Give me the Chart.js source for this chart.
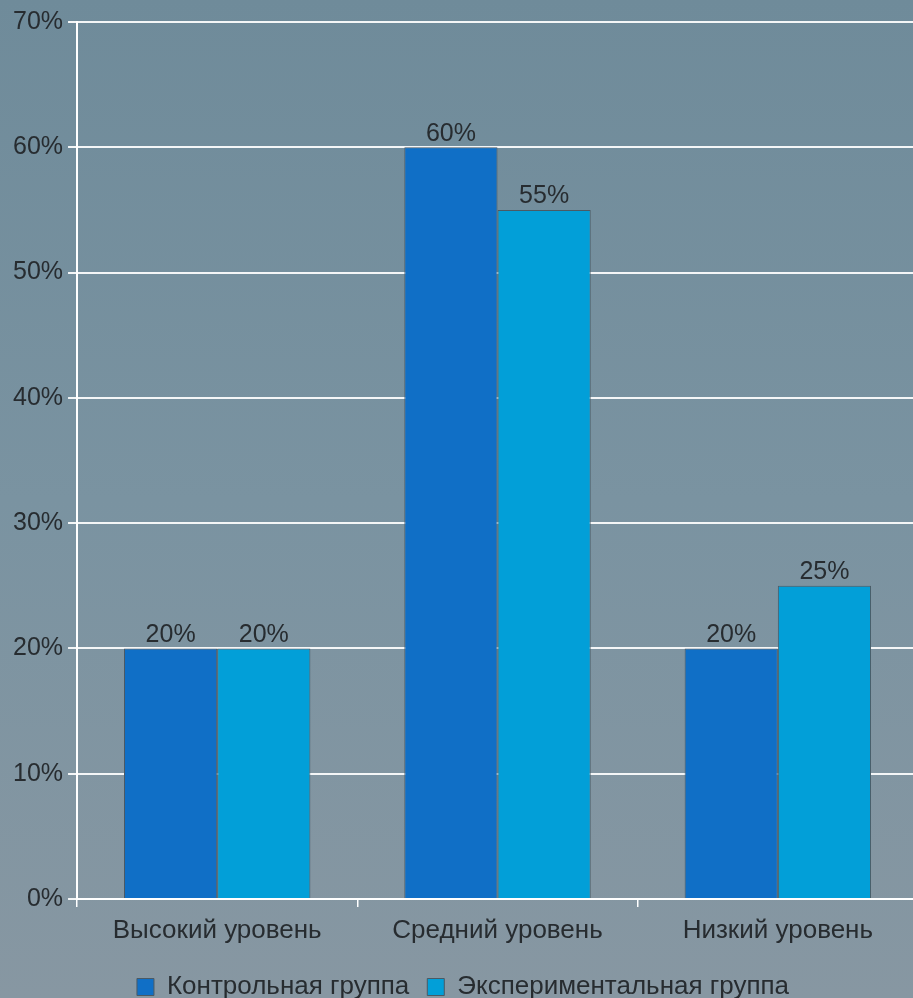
<!DOCTYPE html>
<html>
<head>
<meta charset="utf-8">
<script src="https://cdn.jsdelivr.net/npm/chart.js@4"></script>
<style>
  html, body { margin: 0; padding: 0; overflow: hidden; }
  body {
    width: 913px; height: 998px;
    background: linear-gradient(180deg, #6f8b9a 0%, #7a93a1 50%, #8797a2 100%);
    font-family: "Liberation Sans", Arial, sans-serif;
  }
  #wrap { position: relative; width: 918px; height: 998px; }
</style>
</head>
<body>
<div id="wrap"><canvas id="chart"></canvas></div>
<script>
// Data
const categories = ['Высокий уровень', 'Средний уровень', 'Низкий уровень'];
const seriesNames = ['Контрольная группа', 'Экспериментальная группа'];
const controlValues = [20, 60, 20];
const experimentValues = [20, 55, 25];
const yTicks = [0, 10, 20, 30, 40, 50, 60, 70];

const fontFamily = '"Liberation Sans", Arial, sans-serif';
const textColor = '#272c30';

// Draw value labels above each bar
const valueLabels = {
    id: 'valueLabels',
    afterDatasetsDraw(chart) {
        const ctx = chart.ctx;
        ctx.save();
        ctx.font = '25px ' + fontFamily;
        ctx.fillStyle = textColor;
        ctx.textAlign = 'center';
        ctx.textBaseline = 'bottom';
        chart.data.datasets.forEach((ds, i) => {
            chart.getDatasetMeta(i).data.forEach((bar, j) => {
                ctx.fillText(ds.data[j] + '%', bar.x, bar.y - 1);
            });
        });
        ctx.restore();
    }
};

const ctx = document.getElementById('chart').getContext('2d');
new Chart(ctx, {
    type: 'bar',
    data: {
        labels: categories,
        datasets: [{
            label: seriesNames[0],
            data: controlValues,
            backgroundColor: '#106fc6',
            borderColor: '#4b5a64',
            borderWidth: 1
        }, {
            label: seriesNames[1],
            data: experimentValues,
            backgroundColor: '#029fd8',
            borderColor: '#4b5a64',
            borderWidth: 1
        }]
    },
    options: {
        responsive: true,
        maintainAspectRatio: false,
        animation: false,
        categoryPercentage: 0.665,
        barPercentage: 1.0,
        layout: { padding: { top: 22, left: 8, right: 0, bottom: -12 } },
        scales: {
            x: {
                afterFit: axis => { axis.height = 57; },
                grid: {
                    drawOnChartArea: false,
                    drawTicks: true,
                    tickLength: 8,
                    color: '#ffffff',
                    lineWidth: 1.5
                },
                border: { color: '#ffffff', width: 2 },
                ticks: {
                    color: textColor,
                    font: { family: fontFamily, size: 26 },
                    padding: 8
                }
            },
            y: {
                min: 0,
                max: 70,
                afterBuildTicks: axis => { axis.ticks = yTicks.map(v => ({ value: v })); },
                grid: {
                    color: '#f4f6f7',
                    lineWidth: 2,
                    tickLength: 9
                },
                border: { color: '#ffffff', width: 2 },
                ticks: {
                    color: textColor,
                    font: { family: fontFamily, size: 25 },
                    padding: 5,
                    callback: v => v + '%'
                }
            }
        },
        plugins: {
            legend: {
                position: 'bottom',
                labels: {
                    color: textColor,
                    font: { family: fontFamily, size: 26 },
                    boxWidth: 17,
                    boxHeight: 17,
                    padding: 18
                }
            },
            tooltip: { enabled: false }
        }
    },
    plugins: [valueLabels]
});
</script>
</body>
</html>
